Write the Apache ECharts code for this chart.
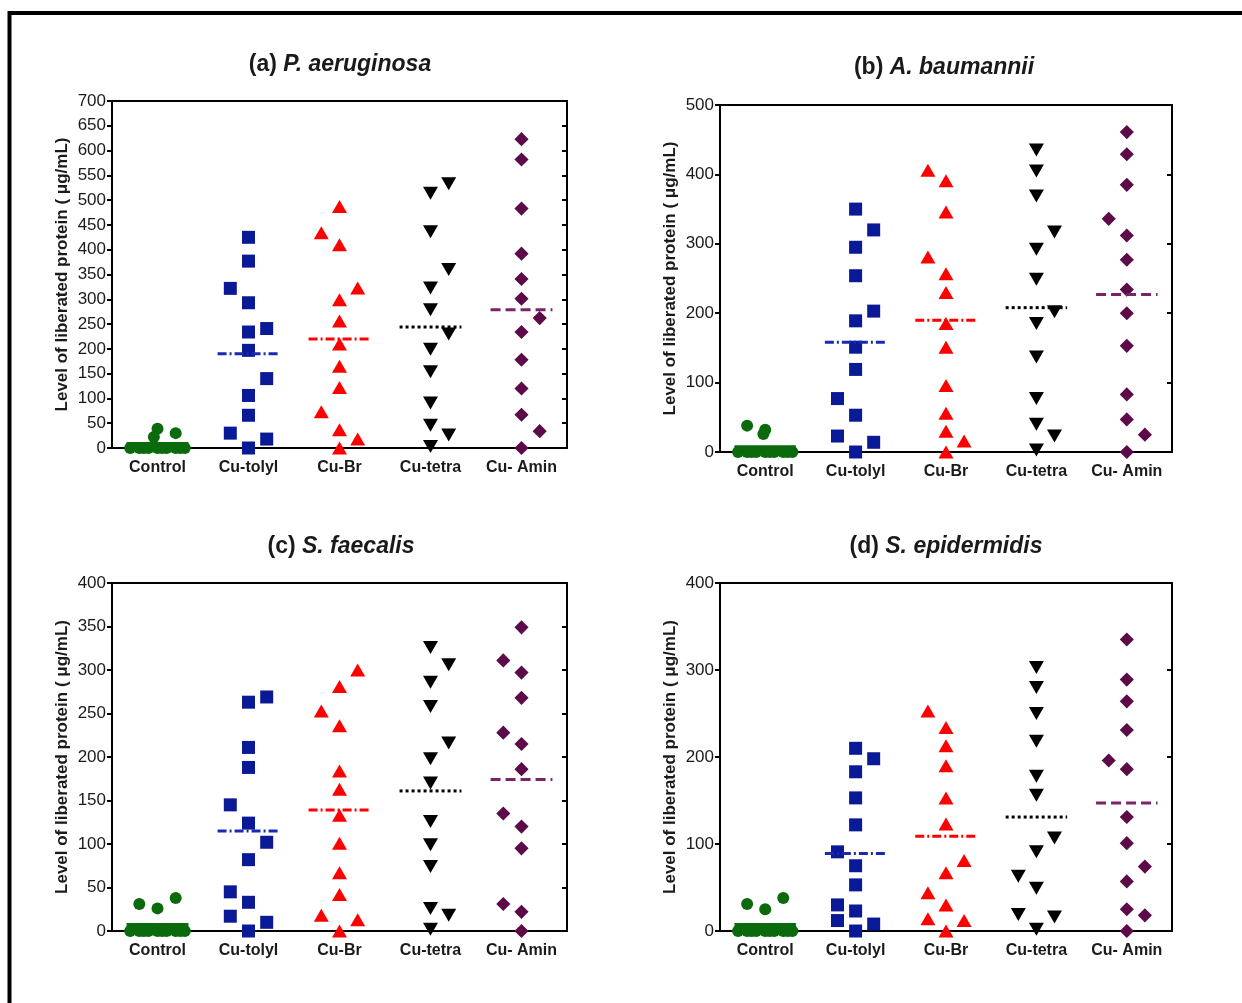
<!DOCTYPE html>
<html>
<head>
<meta charset="UTF-8">
<title>Level of liberated protein</title>
<script src="https://cdn.jsdelivr.net/npm/echarts@6/dist/echarts.min.js"></script>
<style>
html, body { margin: 0; padding: 0; background: #fff; }
#main { width: 1242px; height: 1003px; }
</style>
</head>
<body>
<div id="main"></div>
<script>
var categories = ['Control', 'Cu-tolyl', 'Cu-Br', 'Cu-tetra', 'Cu- Amin'];
var yName = 'Level of liberated protein ( \u03bcg/mL)';

// column of each point inside its group (-1 left, 0 middle, 1 right)
var zeroCols = [-1.5, -1, -0.5, 0, 0.5, 1, 1.5, -0.75, 0.25, 1.25];

// (a) P. aeruginosa
var valuesA = [
    [0, 0, 0, 0, 0, 0, 0, 0, 0, 0, 39, 22, 30],
    [425, 377, 293, 234, 197, 106, 66, 0, 322, 30, 241, 140, 18],
    [487, 410, 299, 256, 210, 165, 122, 37, 0, 434, 73, 323, 18],
    [514, 436, 323, 279, 199, 154, 91, 46, 3, 533, 360, 230, 26],
    [623, 582, 483, 392, 341, 301, 234, 178, 120, 67, 0, 262, 34]
];
var colsA = [
    zeroCols.concat([0, -0.2, 1]),
    [0, 0, 0, 0, 0, 0, 0, 0, -1, -1, 1, 1, 1],
    [0, 0, 0, 0, 0, 0, 0, 0, 0, -1, -1, 1, 1],
    [0, 0, 0, 0, 0, 0, 0, 0, 0, 1, 1, 1, 1],
    [0, 0, 0, 0, 0, 0, 0, 0, 0, 0, 0, 1, 1]
];
var meansA = [8, 190, 220, 244, 279];

// (b) A. baumannii
var valuesB = [
    [0, 0, 0, 0, 0, 0, 0, 0, 0, 0, 38, 32, 26],
    [350, 295, 254, 189, 151, 119, 53, 0, 77, 23, 320, 203, 14],
    [391, 346, 257, 230, 185, 151, 96, 56, 30, 0, 406, 281, 16],
    [435, 405, 369, 292, 249, 185, 137, 77, 40, 3, 317, 202, 23],
    [461, 429, 385, 312, 277, 234, 200, 153, 83, 47, 0, 336, 25]
];
var colsB = [
    zeroCols.concat([-1, 0, -0.1]),
    [0, 0, 0, 0, 0, 0, 0, 0, -1, -1, 1, 1, 1],
    [0, 0, 0, 0, 0, 0, 0, 0, 0, 0, -1, -1, 1],
    [0, 0, 0, 0, 0, 0, 0, 0, 0, 0, 1, 1, 1],
    [0, 0, 0, 0, 0, 0, 0, 0, 0, 0, 0, -1, 1]
];
var meansB = [7, 158, 190, 208, 227];

// (c) S. faecalis
var valuesC = [
    [0, 0, 0, 0, 0, 0, 0, 0, 0, 0, 31, 26, 38],
    [263, 211, 188, 124, 82, 33, 0, 145, 45, 17, 269, 102, 10],
    [281, 236, 184, 163, 133, 101, 67, 42, 0, 253, 18, 300, 13],
    [326, 286, 258, 198, 170, 126, 99, 74, 26, 2, 306, 216, 18],
    [349, 297, 268, 215, 186, 120, 95, 22, 0, 311, 228, 135, 31]
];
var colsC = [
    zeroCols.concat([-1, 0, 1]),
    [0, 0, 0, 0, 0, 0, 0, -1, -1, -1, 1, 1, 1],
    [0, 0, 0, 0, 0, 0, 0, 0, 0, -1, -1, 1, 1],
    [0, 0, 0, 0, 0, 0, 0, 0, 0, 0, 1, 1, 1],
    [0, 0, 0, 0, 0, 0, 0, 0, 0, -1, -1, -1, -1]
];
var meansC = [7, 115, 139, 161, 174];

// (d) S. epidermidis
var valuesD = [
    [0, 0, 0, 0, 0, 0, 0, 0, 0, 0, 31, 25, 38],
    [210, 183, 153, 122, 75, 53, 23, 0, 91, 30, 12, 198, 8],
    [234, 213, 190, 153, 123, 67, 30, 0, 253, 44, 14, 81, 12],
    [303, 280, 250, 218, 178, 156, 91, 49, 2, 63, 19, 107, 16],
    [335, 289, 264, 231, 186, 131, 101, 57, 25, 0, 196, 74, 18]
];
var colsD = [
    zeroCols.concat([-1, 0, 1]),
    [0, 0, 0, 0, 0, 0, 0, 0, -1, -1, -1, 1, 1],
    [0, 0, 0, 0, 0, 0, 0, 0, -1, -1, -1, 1, 1],
    [0, 0, 0, 0, 0, 0, 0, 0, 0, -1, -1, 1, 1],
    [0, 0, 0, 0, 0, 0, 0, 0, 0, 0, -1, 1, 1]
];
var meansD = [7, 89, 109, 131, 147];

var panels = [
    { tag: '(a) ', species: 'P. aeruginosa', values: valuesA, cols: colsA, means: meansA, max: 700, step: 50,
      grid: { left: 112, top: 101, width: 455, height: 347 }, titleX: 340, titleY: 53 },
    { tag: '(b) ', species: 'A. baumannii', values: valuesB, cols: colsB, means: meansB, max: 500, step: 100,
      grid: { left: 720, top: 105, width: 452, height: 347 }, titleX: 944, titleY: 56 },
    { tag: '(c) ', species: 'S. faecalis', values: valuesC, cols: colsC, means: meansC, max: 400, step: 50,
      grid: { left: 112, top: 583, width: 455, height: 348 }, titleX: 341, titleY: 535 },
    { tag: '(d) ', species: 'S. epidermidis', values: valuesD, cols: colsD, means: meansD, max: 400, step: 100,
      grid: { left: 720, top: 583, width: 452, height: 348 }, titleX: 946, titleY: 535 }
];

var colors = ['#0b6a0b', '#0a1a96', '#ff0000', '#000000', '#5c0a48'];
var meanColors = ['#0b6a0b', '#1a2ab0', '#ff0000', '#000000', '#7a2466'];
var symbols = ['circle', 'rect', 'triangle', 'triangle', 'rect'];
var symbolSizes = [12, 13, [15, 13], [15, 13], 10];
var symbolRotates = [0, 0, 0, 180, 45];
var meanDash = ['solid', [9, 3, 2, 3], [9, 3, 2, 3], [3, 3], [10, 5]];
var colStep = 0.2;
var meanHalf = 0.34;
var font = 'Liberation Sans, Arial, sans-serif';
var ink = '#1a1a1a';

var option = {
    animation: false,
    backgroundColor: '#fff',
    title: [], grid: [], xAxis: [], yAxis: [], series: [],
    graphic: [{
        type: 'rect',
        shape: { x: 9.5, y: 13, width: 1300, height: 1100 },
        style: { fill: 'none', stroke: '#000', lineWidth: 4 },
        silent: true
    }]
};

var lineStyle = { color: '#000', width: 2 };

panels.forEach(function (p, k) {
    option.title.push({
        text: '{n|' + p.tag + '}{i|' + p.species + '}',
        left: p.titleX, top: p.titleY, textAlign: 'center', padding: 0,
        textStyle: {
            rich: {
                n: { fontFamily: font, fontWeight: 'bold', fontSize: 23, color: ink },
                i: { fontFamily: font, fontWeight: 'bold', fontStyle: 'italic', fontSize: 23, color: ink }
            }
        }
    });
    option.grid.push(p.grid);

    var xBase = option.xAxis.length;
    // bottom category axis with labels
    option.xAxis.push({
        type: 'category', gridIndex: k, position: 'bottom', data: categories,
        axisLine: { onZero: false, lineStyle: lineStyle },
        axisTick: { alignWithLabel: true, length: 6, lineStyle: { color: '#000', width: 2 } },
        axisLabel: { interval: 0, margin: 12, fontFamily: font, fontWeight: 'bold', fontSize: 16, color: ink },
        splitLine: { show: false }
    });
    // top frame
    option.xAxis.push({
        type: 'category', gridIndex: k, position: 'top', data: categories,
        axisLine: { onZero: false, lineStyle: lineStyle },
        axisTick: { alignWithLabel: true, inside: true, length: 6, lineStyle: { color: '#000', width: 2 } },
        axisLabel: { show: false },
        splitLine: { show: false }
    });
    // hidden value axis for point placement
    option.xAxis.push({
        type: 'value', gridIndex: k, min: -0.5, max: 4.5, show: false,
        axisLine: { onZero: false }
    });

    var yBase = option.yAxis.length;
    option.yAxis.push({
        type: 'value', gridIndex: k, position: 'left', min: 0, max: p.max, interval: p.step,
        name: yName, nameLocation: 'middle', nameGap: 41,
        nameTextStyle: { fontFamily: font, fontWeight: 'bold', fontSize: 17, color: ink },
        axisLine: { show: true, onZero: false, lineStyle: lineStyle },
        axisTick: { show: true, length: 5, lineStyle: { color: '#000', width: 2 } },
        axisLabel: { margin: 6, fontFamily: font, fontSize: 17, color: ink },
        splitLine: { show: false }
    });
    option.yAxis.push({
        type: 'value', gridIndex: k, position: 'right', min: 0, max: p.max, interval: p.step,
        axisLine: { show: true, onZero: false, lineStyle: lineStyle },
        axisTick: { show: true, inside: true, length: 5, lineStyle: { color: '#000', width: 2 } },
        axisLabel: { show: false },
        splitLine: { show: false }
    });

    for (var g = 0; g < categories.length; g++) {
        var pts = p.values[g].map(function (v, j) {
            return [g + p.cols[g][j] * colStep, v];
        });
        option.series.push({
            type: 'scatter', name: categories[g],
            xAxisIndex: xBase + 2, yAxisIndex: yBase,
            symbol: symbols[g], symbolSize: symbolSizes[g], symbolRotate: symbolRotates[g],
            itemStyle: { color: colors[g], opacity: 1 },
            data: pts, z: 3, clip: false
        });
        option.series.push({
            type: 'line', xAxisIndex: xBase + 2, yAxisIndex: yBase,
            symbol: 'none',
            lineStyle: { color: meanColors[g], width: g === 0 ? 4 : 3, type: meanDash[g] },
            data: [[g - meanHalf, p.means[g]], [g + meanHalf, p.means[g]]],
            z: 4
        });
    }
});

var chart = echarts.init(document.getElementById('main'));
chart.setOption(option);
</script>
</body>
</html>
